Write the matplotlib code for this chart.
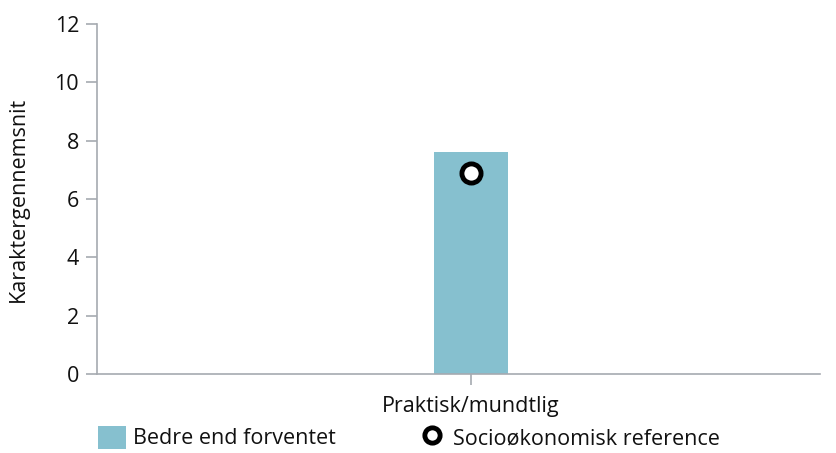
import matplotlib.pyplot as plt
from matplotlib.patches import Patch
from matplotlib.lines import Line2D

plt.rcParams['font.family'] = ['Open Sans', 'DejaVu Sans']

categories = ["Praktisk/mundtlig"]
bedre_values = [7.6]
reference_values = [6.9]
y_ticks = [0, 2, 4, 6, 8, 10, 12]

bar_colour = "#86c0cf"
axis_colour = "#a6aab0"

fig = plt.figure(figsize=(8.37, 4.53), dpi=100)
ax = fig.add_axes([97 / 837, 1 - 374 / 453, 723 / 837, 350 / 453])

x = list(range(len(categories)))
ax.bar(x, bedre_values, width=0.1, color=bar_colour, zorder=2)
ax.scatter(x, reference_values, s=190, facecolor="white", edgecolor="black",
           linewidth=3.5, zorder=3)

ax.set_xlim(-0.5, 0.4667)
ax.set_ylim(0, 12)
ax.set_yticks(y_ticks)
ax.set_xticks(x)
ax.set_xticklabels(categories)
ax.set_ylabel("Karaktergennemsnit", fontsize=15.5, labelpad=18, color="#111111")

for side in ["top", "right"]:
    ax.spines[side].set_visible(False)
for side in ["left", "bottom"]:
    ax.spines[side].set_color(axis_colour)
    ax.spines[side].set_linewidth(1.2)
ax.tick_params(axis="both", colors=axis_colour, length=8, width=1.2,
               labelsize=15.5, labelcolor="#111111")
ax.tick_params(axis="y", pad=5)
ax.tick_params(axis="x", pad=8)

handles = [
    Patch(facecolor=bar_colour, edgecolor="none", label="Bedre end forventet"),
    Line2D([], [], marker="o", linestyle="none", markersize=11,
           markerfacecolor="white", markeredgecolor="black",
           markeredgewidth=3.5, label="Socioøkonomisk reference"),
]
fig.legend(handles=handles, loc="lower left", bbox_to_anchor=(79 / 837, -0.035),
           ncol=2, frameon=False, fontsize=15.5, handlelength=1.3,
           handleheight=1.3, handletextpad=0.3, columnspacing=3.85,
           labelcolor="#111111")

fig.savefig("out.png", dpi=100)
